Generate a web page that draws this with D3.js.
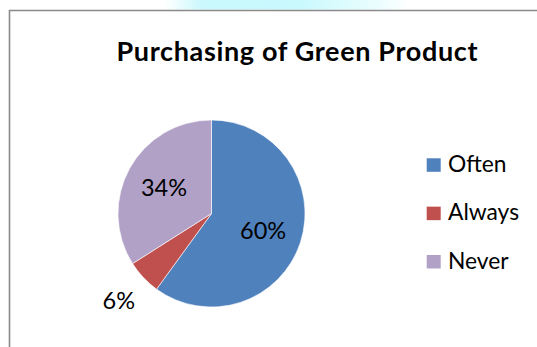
<!DOCTYPE html>
<html>
<head>
<meta charset="utf-8">
<script src="https://cdn.jsdelivr.net/npm/d3@7"></script>
<style>
  html, body { margin: 0; padding: 0; background: #ffffff; }
  svg { display: block; }
  text { font-family: Lato, "Open Sans", sans-serif; fill: #000; }
</style>
</head>
<body>
<svg id="chart" width="537" height="347"></svg>
<script>
// Survey answers: how often respondents buy green products
const categories = ["Often", "Always", "Never"];
const values = [60, 6, 34];
const colors = ["#4F81BD", "#C0504D", "#B2A1C7"];
const chartTitle = "Purchasing of Green Product";

const width = 537, height = 347;
const svg = d3.select("#chart");

// soft cyan band along the top edge
const defs = svg.append("defs");
const glow = defs.append("linearGradient").attr("id", "topGlow")
  .attr("x1", "0%").attr("x2", "100%").attr("y1", "0%").attr("y2", "0%");
glow.append("stop").attr("offset", "0%").attr("stop-color", "#c4f7fc").attr("stop-opacity", 0);
glow.append("stop").attr("offset", "15%").attr("stop-color", "#c4f7fc").attr("stop-opacity", 0.9);
glow.append("stop").attr("offset", "55%").attr("stop-color", "#c8f9fd").attr("stop-opacity", 1);
glow.append("stop").attr("offset", "85%").attr("stop-color", "#e2fcfe").attr("stop-opacity", 0.8);
glow.append("stop").attr("offset", "100%").attr("stop-color", "#e2fcfe").attr("stop-opacity", 0);
svg.append("rect").attr("x", 165).attr("y", 0).attr("width", 245).attr("height", 9.5)
  .attr("fill", "url(#topGlow)");

// chart frame (continues past the right and bottom edges)
svg.append("path")
  .attr("d", `M9.5,${height + 5} V10.5 H${width + 5}`)
  .attr("fill", "none")
  .attr("stroke", "#8a8a8a")
  .attr("stroke-width", 1.6);

// title
svg.append("text")
  .attr("x", 297).attr("y", 61)
  .attr("text-anchor", "middle")
  .attr("font-weight", "bold")
  .attr("font-size", 27)
  .attr("textLength", 361)
  .attr("lengthAdjust", "spacing")
  .text(chartTitle);

// pie
const cx = 211.5, cy = 213.5, r = 93.5;
const pie = d3.pie().sort(null).value(d => d.value);
const arcs = pie(categories.map((c, i) => ({ name: c, value: values[i], color: colors[i] })));
const arc = d3.arc().innerRadius(0).outerRadius(r);

const g = svg.append("g").attr("transform", `translate(${cx},${cy})`);
g.selectAll("path.slice").data(arcs).enter().append("path")
  .attr("class", "slice")
  .attr("d", arc)
  .attr("fill", d => d.data.color)
  .attr("stroke", "#ffffff")
  .attr("stroke-width", 0.6);

// percentage labels: inside for wide slices, outside for narrow ones
const total = d3.sum(values);
const inner = d3.arc().innerRadius(r * 0.58).outerRadius(r * 0.58);
const outer = d3.arc().innerRadius(r * 1.36).outerRadius(r * 1.36);
g.selectAll("text.pct").data(arcs).enter().append("text")
  .attr("class", "pct")
  .attr("transform", d => {
    const p = (d.data.value / total < 0.1 ? outer : inner).centroid(d);
    return `translate(${p[0]},${p[1]})`;
  })
  .attr("text-anchor", "middle")
  .attr("dy", "0.36em")
  .attr("font-size", 23.5)
  .text(d => Math.round(d.data.value / total * 100) + "%");

// legend
const legendY = d3.scalePoint().domain(categories).range([158.3, 255]);
const legend = svg.append("g");
const items = legend.selectAll("g").data(categories).enter().append("g")
  .attr("transform", d => `translate(426.7,${legendY(d)})`);
items.append("rect")
  .attr("width", 14).attr("height", 13.5)
  .attr("fill", (d, i) => colors[i]);
items.append("text")
  .attr("x", 21.3).attr("y", 13.7)
  .attr("font-size", 22.8)
  .text(d => d);
</script>
</body>
</html>
